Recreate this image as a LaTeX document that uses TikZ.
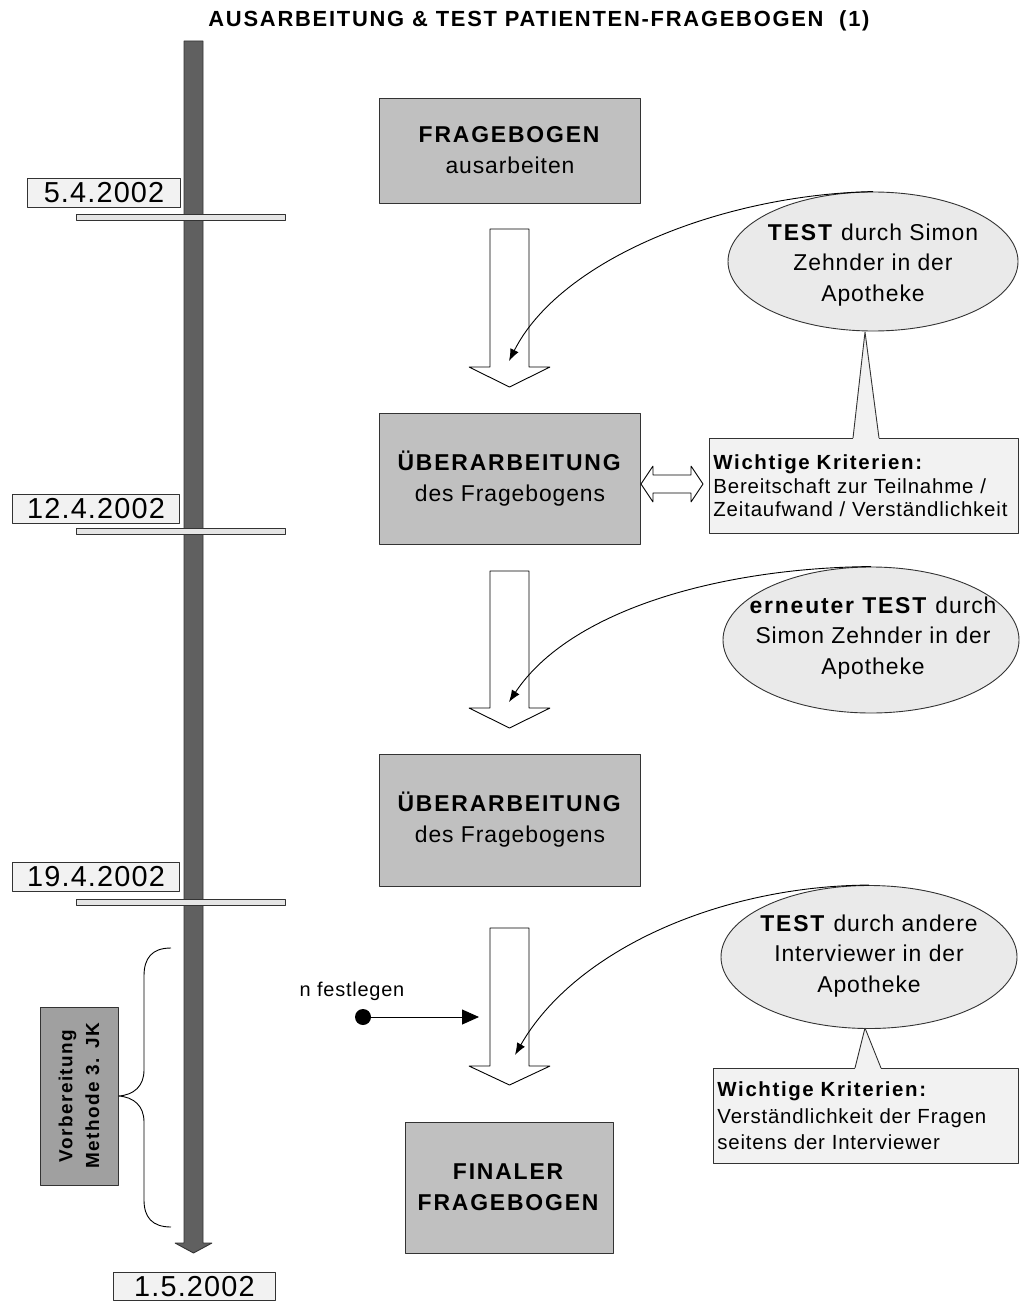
\documentclass[tikz,border=0pt]{standalone}
\usepackage{fontspec}
\setmainfont{Liberation Sans}[LetterSpace=4,BoldFeatures={LetterSpace=8}]
\usetikzlibrary{shapes.geometric,arrows.meta}
\definecolor{boxgray}{HTML}{C0C0C0}
\definecolor{darkbar}{HTML}{606060}
\definecolor{ellfill}{HTML}{EAEAEA}
\definecolor{notefill}{HTML}{F2F2F2}
\definecolor{sidegray}{HTML}{A0A0A0}
\definecolor{edgegray}{HTML}{333333}
\begin{document}
\begin{tikzpicture}[>=latex,line join=bevel,x=1bp,y=-1bp,
  stepbox/.style={draw=edgegray,fill=boxgray,minimum width=261bp,align=center,inner sep=0pt,font=\fontsize{23}{31}\selectfont},
  testell/.style={ellipse,draw=edgegray,fill=ellfill,inner sep=0pt},
  testtext/.style={align=center,inner sep=0pt,font=\fontsize{23}{31}\selectfont},
  notebox/.style={draw=edgegray,fill=notefill,anchor=north west,align=left,inner xsep=4bp,inner ysep=0pt,font=\fontsize{20.5}{23.5}\selectfont},
  datebox/.style={draw=edgegray,fill=notefill,inner sep=0pt,minimum height=29bp,font=\fontsize{29}{29}\selectfont},
  tickbar/.style={draw=edgegray,fill=gray!20},
  hollow/.style={draw=black,fill=white},
  testlink/.style={-{Latex[length=12bp,width=9bp]}},
]
  \useasboundingbox (0,0) rectangle (1019,1301);
  \pgfsetlinewidth{0.9bp}
%%
  % Node: Title
  \node (title) at (539,21) {\fontsize{22}{22}\selectfont\bfseries AUSARBEITUNG \& TEST PATIENTEN-FRAGEBOGEN~~(1)};
  % Timeline
  \draw [draw=black!80,fill=darkbar] (184,41) -- (203,41) -- (203,1243) -- (212,1243) -- (193.5,1253) -- (175,1243) -- (184,1243) -- cycle;
  \draw [tickbar] (76,214) rectangle (285,220);
  \draw [tickbar] (76,528) rectangle (285,534);
  \draw [tickbar] (76,899) rectangle (285,905);
  % Node: Dates
  \node [datebox,minimum width=153bp,anchor=north east] (d1) at (181,178) {5.4.2002};
  \node [datebox,minimum width=167bp,anchor=north east] (d2) at (180,494) {12.4.2002};
  \node [datebox,minimum width=167bp,anchor=north east] (d3) at (180,862) {19.4.2002};
  \node [datebox,minimum width=162bp,minimum height=28bp,anchor=north west] (d4) at (113,1272) {1.5.2002};
  % Node: Fragebogen
  \node [stepbox,minimum height=105bp] (fb) at (510,150.5) {\textbf{FRAGEBOGEN}\\ausarbeiten};
  % Node: Ueberarbeitung_1
  \node [stepbox,minimum height=131bp] (ue1) at (510,478.5) {\textbf{ÜBERARBEITUNG}\\des Fragebogens};
  % Node: Ueberarbeitung_2
  \node [stepbox,minimum height=132bp] (ue2) at (510,820) {\textbf{ÜBERARBEITUNG}\\des Fragebogens};
  % Node: Final
  \node [stepbox,minimum width=208bp,minimum height=131bp] (final) at (509,1187.5) {\textbf{FINALER}\\\textbf{FRAGEBOGEN}};
  % Node: Test_1
  \node [testell,minimum width=290bp,minimum height=139bp] (t1) at (873,261.5) {};
  \node [testtext] (t1txt) at (873,265) {\textbf{TEST} durch Simon\\Zehnder in der\\Apotheke};
  % Node: Test_2
  \node [testell,minimum width=296bp,minimum height=146bp] (t2) at (871,640) {};
  \node [testtext] (t2txt) at (873,638) {\textbf{erneuter TEST} durch\\Simon Zehnder in der\\Apotheke};
  % Node: Test_3
  \node [testell,minimum width=296bp,minimum height=143bp] (t3) at (869,957) {};
  \node [testtext] (t3txt) at (869,956) {\textbf{TEST} durch andere\\Interviewer in der\\Apotheke};
  % Node: Kriterien_1
  \node [notebox,text width=301bp,minimum height=95bp] (k1) at (709,438) {\textbf{Wichtige Kriterien:}\\Bereitschaft zur Teilnahme /\\Zeitaufwand / Verständlichkeit};
  \fill [notefill] (853,439) -- (865,332) -- (879,439) -- cycle;
  \draw [draw=edgegray] (853,438) -- (865,332) -- (879,438);
  % Node: Kriterien_2
  \node [notebox,text width=297bp,minimum height=95bp,font=\fontsize{20.5}{26.5}\selectfont] (k2) at (713,1068) {\textbf{Wichtige Kriterien:}\\Verständlichkeit der Fragen\\seitens der Interviewer};
  \fill [notefill] (855,1069) -- (865,1028) -- (881,1069) -- cycle;
  \draw [draw=edgegray] (855,1068) -- (865,1028) -- (881,1068);
  % Node: Vorbereitung
  \node [draw=edgegray,fill=sidegray,rotate=90,minimum width=178bp,minimum height=78bp,align=center,inner sep=0pt,font=\fontsize{19}{27}\selectfont\bfseries] (vb) at (79,1096) {Vorbereitung\\Methode 3. JK};
  \draw (171,948) .. controls (152,948) and (144,958) .. (144,976) -- (144,1070) .. controls (144,1086) and (134,1095) .. (vb.south) .. controls (134,1097) and (144,1106) .. (144,1122) -- (144,1200) .. controls (144,1217) and (152,1227) .. (171,1227);
  % Node: Festlegen
  \node [font=\fontsize{20}{20}\selectfont] (nfest) at (352,991) {n festlegen};
  \node [circle,fill=black,inner sep=0pt,minimum size=16bp] (dot) at (363,1017) {};
  \coordinate (nfend) at (479,1017);
  \draw [-{Triangle[length=17bp,width=15bp]}] (dot) -- (nfend);
  % Edge: Fragebogen -> Ueberarbeitung_1
  \draw [hollow] (490,229) -- (529,229) -- (529,367) -- (550,367) -- (509.5,387) -- (469,367) -- (490,367) -- cycle;
  % Edge: Ueberarbeitung_1 -> Ueberarbeitung_2
  \draw [hollow] (490,571) -- (529,571) -- (529,708) -- (550,708) -- (509.5,728) -- (469,708) -- (490,708) -- cycle;
  % Edge: Ueberarbeitung_2 -> Final
  \draw [hollow] (490,928) -- (529,928) -- (529,1066) -- (550,1066) -- (509.5,1085) -- (469,1066) -- (490,1066) -- cycle;
  % Edge: Ueberarbeitung_1 <-> Kriterien_1
  \draw [hollow] (641,484) -- (653,466) -- (653,475) -- (691,475) -- (691,466) -- (703,484) -- (691,502) -- (691,493) -- (653,493) -- (653,502) -- cycle;
  % Edge: Test -> arrows
  \coordinate (a1tip) at (509,361);
  \coordinate (a2tip) at (509,702);
  \coordinate (a3tip) at (515,1055);
  \draw [testlink] (t1.north) .. controls (720,195) and (560,260) .. (a1tip);
  \draw [testlink] (t2.north) .. controls (720,568) and (570,610) .. (a2tip);
  \draw [testlink] (t3.north) .. controls (720,886) and (575,950) .. (a3tip);
%
\end{tikzpicture}
\end{document}
